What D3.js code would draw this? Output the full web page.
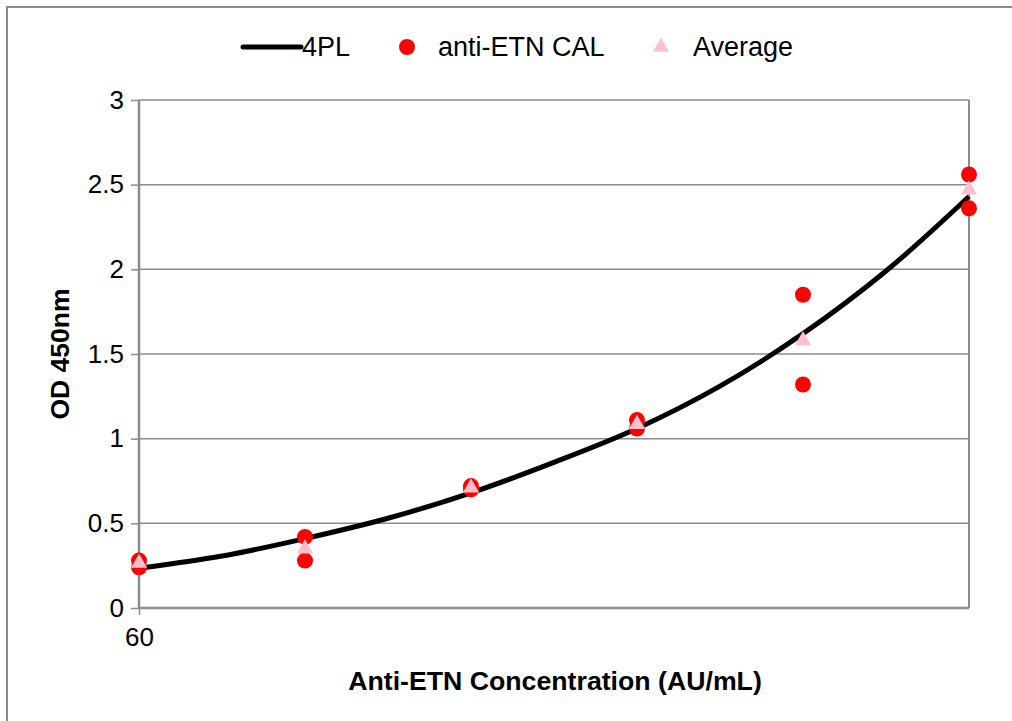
<!DOCTYPE html>
<html>
<head>
<meta charset="utf-8">
<script src="https://cdn.jsdelivr.net/npm/d3@7/dist/d3.min.js"></script>
<style>
  html, body { margin: 0; padding: 0; background: #fff; }
  svg { display: block; font-family: "Liberation Sans", Arial, sans-serif; }
</style>
</head>
<body>
<svg id="chart" width="1012" height="721"></svg>
<script>
// ---- Data ----
const concentrations = [60, 90, 135, 202.5, 303.75, 455.625];
const replicateA = [0.28, 0.42, 0.72, 1.11, 1.85, 2.56];
const replicateB = [0.24, 0.28, 0.70, 1.06, 1.32, 2.36];
const averages = [0.265, 0.35, 0.71, 1.085, 1.58, 2.47];
const curveX = [60, 73.5, 90, 110.2, 135, 165.3, 202.5, 248, 303.75, 372, 455.625];
const curveY = [0.235, 0.307, 0.41, 0.53, 0.68, 0.86, 1.06, 1.31, 1.62, 1.99, 2.43];
const yTicks = [0, 0.5, 1, 1.5, 2, 2.5, 3];
const xTicks = [60];
const legendLabels = ["4PL", "anti-ETN CAL", "Average"];

// ---- Layout ----
const svg = d3.select("#chart");
const plot = { left: 139, right: 969, top: 100, bottom: 608 };
const gridColor = "#8c8c8c";

const x = d3.scaleLog().domain([60, 455.625]).range([plot.left, plot.right]);
const y = d3.scaleLinear().domain([0, 3]).range([plot.bottom, plot.top]);

// outer chart border
svg.append("rect").attr("x", 7).attr("y", 7).attr("width", 1030).attr("height", 740)
  .attr("fill", "none").attr("stroke", "#8a8a8a").attr("stroke-width", 2);

// gridlines
svg.append("g").selectAll("line").data(yTicks.filter(d => d > 0)).join("line")
  .attr("x1", plot.left).attr("x2", plot.right)
  .attr("y1", d => y(d)).attr("y2", d => y(d))
  .attr("stroke", gridColor).attr("stroke-width", 1.5);

// plot area right border
svg.append("line").attr("x1", plot.right).attr("x2", plot.right)
  .attr("y1", plot.top).attr("y2", plot.bottom)
  .attr("stroke", gridColor).attr("stroke-width", 2);

// y axis
const yAxis = svg.append("g").attr("transform", `translate(${plot.left},0)`)
  .call(d3.axisLeft(y).tickValues(yTicks).tickSize(8).tickPadding(7).tickFormat(d3.format("")));
yAxis.select(".domain").attr("stroke", gridColor).attr("stroke-width", 2.5)
  .attr("d", `M0,${plot.top}V${plot.bottom}`);
yAxis.selectAll(".tick line").attr("stroke", gridColor).attr("stroke-width", 1.5);
yAxis.selectAll(".tick text").attr("font-size", 26).attr("fill", "#000")
  .attr("font-family", "Liberation Sans, Arial, sans-serif");

// x axis
const xAxis = svg.append("g").attr("transform", `translate(0,${plot.bottom})`)
  .call(d3.axisBottom(x).tickValues(xTicks).tickSize(7).tickPadding(13).tickFormat(d3.format("")));
xAxis.select(".domain").attr("stroke", gridColor).attr("stroke-width", 2.5)
  .attr("d", `M${plot.left},0H${plot.right}`);
xAxis.selectAll(".tick line").attr("stroke", gridColor).attr("stroke-width", 1.5);
xAxis.selectAll(".tick text").attr("font-size", 26).attr("fill", "#000")
  .attr("font-family", "Liberation Sans, Arial, sans-serif");

// axis titles
svg.append("text").attr("x", (plot.left + plot.right) / 2 + 1).attr("y", 690)
  .attr("text-anchor", "middle").attr("font-weight", "bold").attr("font-size", 26.7)
  .text("Anti-ETN Concentration (AU/mL)");
svg.append("text").attr("transform", `translate(69,${(plot.top + plot.bottom) / 2}) rotate(-90)`)
  .attr("text-anchor", "middle").attr("font-weight", "bold").attr("font-size", 26.5)
  .text("OD 450nm");

// 4PL curve
const curveData = curveX.map((cx, i) => [cx, curveY[i]]);
svg.append("path").datum(curveData)
  .attr("d", d3.line().x(d => x(d[0])).y(d => y(d[1])).curve(d3.curveCatmullRom.alpha(0.5)))
  .attr("fill", "none").attr("stroke", "#000").attr("stroke-width", 5);

// replicate points
const reps = concentrations.flatMap((c, i) => [[c, replicateA[i]], [c, replicateB[i]]]);
svg.append("g").selectAll("circle").data(reps).join("circle")
  .attr("cx", d => x(d[0])).attr("cy", d => y(d[1])).attr("r", 8)
  .attr("fill", "#ff0000");

// averages
const tri = d3.symbol().type(d3.symbolTriangle).size(115);
svg.append("g").selectAll("path").data(concentrations.map((c, i) => [c, averages[i]])).join("path")
  .attr("transform", d => `translate(${x(d[0])},${y(d[1])})`)
  .attr("d", tri).attr("fill", "#ffc0cb");

// legend
const lg = svg.append("g");
lg.append("line").attr("x1", 243).attr("x2", 301).attr("y1", 47).attr("y2", 47)
  .attr("stroke", "#000").attr("stroke-width", 5).attr("stroke-linecap", "round");
lg.append("text").attr("x", 302).attr("y", 56).attr("font-size", 27).text(legendLabels[0]);
lg.append("circle").attr("cx", 407).attr("cy", 47).attr("r", 8).attr("fill", "#ff0000");
lg.append("text").attr("x", 438).attr("y", 56).attr("font-size", 27).text(legendLabels[1]);
lg.append("path").attr("transform", "translate(661,47)").attr("d", tri).attr("fill", "#ffc0cb");
lg.append("text").attr("x", 693).attr("y", 56).attr("font-size", 27).text(legendLabels[2]);
</script>
</body>
</html>
